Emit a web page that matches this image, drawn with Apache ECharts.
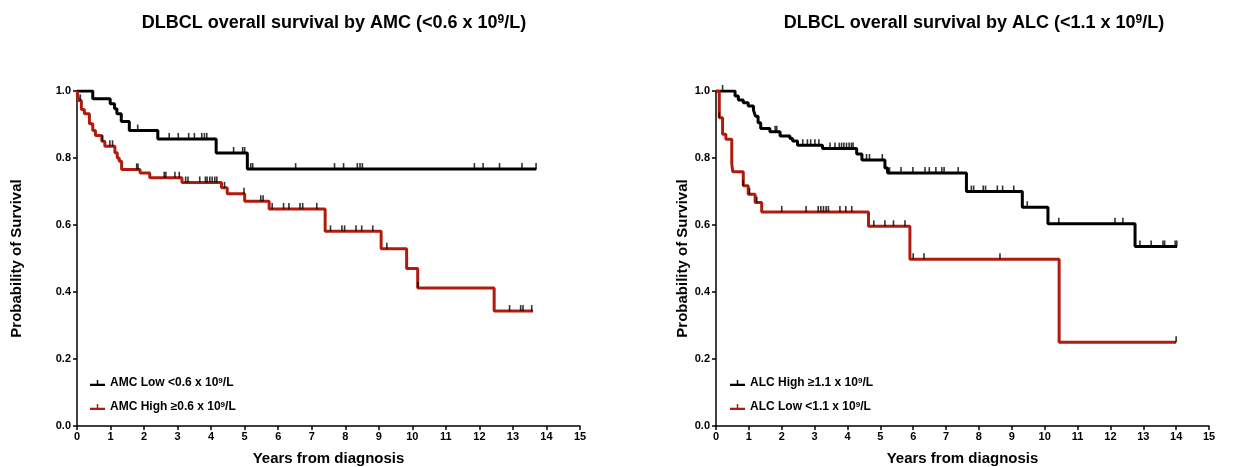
<!DOCTYPE html>
<html>
<head>
<meta charset="utf-8">
<title>DLBCL overall survival</title>
<script src="https://cdn.jsdelivr.net/npm/echarts@6/dist/echarts.min.js"></script>
<style>
  html, body { margin: 0; padding: 0; background: #fff; }
  #chart { width: 1236px; height: 467px; }
</style>
</head>
<body>
<div id="chart"></div>
<script>
// ---- AMC plot (left) ----
const amcLowTimes = [0, 0.47, 0.99, 1.12, 1.19, 1.32, 1.56, 2.41, 4.15, 5.08]
const amcLowSurv  = [1.0, 0.977, 0.962, 0.947, 0.932, 0.909, 0.882, 0.857, 0.815, 0.767]
const amcLowEnd = 13.7
const amcLowCensor = [1.81, 2.75, 3.02, 3.33, 3.5, 3.72, 3.8, 3.87, 4.67, 4.94, 5.0, 5.18, 5.24, 6.52,
  7.68, 7.95, 8.36, 8.44, 8.51, 11.85, 12.11, 12.6, 13.27, 13.69]

const amcHighTimes = [0, 0.05, 0.13, 0.22, 0.37, 0.47, 0.55, 0.74, 0.83, 1.13, 1.2, 1.26, 1.33, 1.88, 2.17,
  3.13, 4.31, 4.48, 5.0, 5.73, 7.4, 9.07, 9.83, 10.16, 12.44]
const amcHighSurv  = [1.0, 0.972, 0.945, 0.932, 0.902, 0.882, 0.867, 0.85, 0.835, 0.816, 0.8, 0.79, 0.766, 0.755, 0.741,
  0.727, 0.711, 0.693, 0.671, 0.648, 0.581, 0.529, 0.47, 0.412, 0.343]
const amcHighEnd = 13.6
const amcHighCensor = [0.1, 0.76, 0.98, 1.06, 1.78, 1.82, 2.6, 2.65, 2.92, 3.05, 3.24, 3.31, 3.66, 3.83, 3.88, 3.96,
  4.03, 4.11, 4.17, 4.4, 4.98, 5.48, 5.55, 5.82, 6.16, 6.32, 6.65, 6.73, 7.15, 7.56, 7.9, 7.98, 8.32, 8.49,
  8.82, 9.24, 10.17, 12.9, 13.23, 13.3, 13.56]

// ---- ALC plot (right) ----
const alcHighTimes = [0, 0.58, 0.68, 0.83, 0.98, 1.14, 1.2, 1.28, 1.36, 1.64, 1.95, 2.25, 2.33, 2.48, 3.24,
  4.28, 4.44, 5.14, 5.22, 7.62, 9.32, 10.1, 12.75]
const alcHighSurv  = [1.0, 0.985, 0.973, 0.965, 0.955, 0.943, 0.925, 0.905, 0.888, 0.878, 0.866, 0.858, 0.851, 0.838, 0.828,
  0.812, 0.794, 0.77, 0.755, 0.70, 0.653, 0.604, 0.536]
const alcHighEnd = 14.03
const alcHighCensor = [0.2, 1.8, 1.85, 2.64, 2.78, 2.88, 3.01, 3.13, 3.47, 3.62, 3.75, 3.82, 3.89, 3.97, 4.05, 4.12,
  4.17, 4.58, 4.67, 5.06, 5.28, 5.63, 5.99, 6.36, 6.49, 6.69, 6.87, 6.94, 7.37, 7.77, 7.84, 8.13, 8.2, 8.56,
  8.72, 9.06, 9.47, 10.43, 12.14, 12.38, 12.9, 13.24, 13.6, 13.65, 13.97, 14.02]

const alcLowTimes = [0, 0.1, 0.2, 0.3, 0.48, 0.51, 0.83, 0.98, 1.19, 1.39, 4.64, 5.9, 10.44]
const alcLowSurv  = [1.0, 0.92, 0.871, 0.856, 0.782, 0.759, 0.717, 0.692, 0.667, 0.639, 0.596, 0.498, 0.25]
const alcLowEnd = 14.0
const alcLowCensor = [0.1, 0.83, 1.02, 1.24, 2.0, 2.74, 3.11, 3.19, 3.27, 3.35, 3.42, 3.77, 3.95, 4.13,
  4.8, 5.14, 5.4, 5.75, 6.0, 6.33, 8.64, 14.0]

const xTicks = [0, 15, 1]   // min, max, step
const yTicks = [0, 1, 0.2]

const BLACK = '#000000'
const RED = '#b01b0e'
const FONT = '"Liberation Sans", Arial, Helvetica, sans-serif'

// 阶梯数据
function stepData(times, surv, end) {
  const d = times.map((t, i) => [t, surv[i]])
  d.push([end, surv[surv.length - 1]])
  return d
}
// 删失点取当时的生存率
function censorData(times, surv, cens) {
  return cens.map(t => {
    let s = surv[0]
    for (let i = 0; i < times.length; i++) {
      if (times[i] <= t) s = surv[i]
    }
    return [t, s]
  })
}

const grids = [
  { left: 77, top: 91, width: 503, height: 335, outerBoundsMode: 'none', containLabel: false },
  { left: 716, top: 91, width: 493, height: 335, outerBoundsMode: 'none', containLabel: false }
]

function xAxisFor(idx) {
  return {
    gridIndex: idx, type: 'value', min: xTicks[0], max: xTicks[1], interval: xTicks[2],
    name: 'Years from diagnosis', nameLocation: 'middle', nameGap: 25,
    nameTextStyle: { fontFamily: FONT, fontWeight: 'bold', fontSize: 15, color: '#000' },
    axisLine: { show: true, onZero: false, lineStyle: { color: '#000', width: 1.5 } },
    axisTick: { show: true, length: 4, lineStyle: { color: '#000', width: 1.5 } },
    axisLabel: { fontFamily: FONT, fontWeight: 'bold', fontSize: 11, color: '#000', margin: 5 },
    splitLine: { show: false }
  }
}
function yAxisFor(idx, gap) {
  return {
    gridIndex: idx, type: 'value', min: yTicks[0], max: yTicks[1], interval: yTicks[2],
    name: 'Probability of Survival', nameLocation: 'middle', nameGap: gap,
    nameTextStyle: { fontFamily: FONT, fontWeight: 'bold', fontSize: 15, color: '#000' },
    axisLine: { show: true, onZero: false, lineStyle: { color: '#000', width: 1.5 } },
    axisTick: { show: true, length: 4, lineStyle: { color: '#000', width: 1.5 } },
    axisLabel: { fontFamily: FONT, fontWeight: 'bold', fontSize: 11, color: '#000', margin: 6,
      formatter: v => v.toFixed(1) },
    splitLine: { show: false }
  }
}

function kmLine(name, idx, color, times, surv, end) {
  return {
    name: name, type: 'line', xAxisIndex: idx, yAxisIndex: idx, step: 'end',
    data: stepData(times, surv, end), showSymbol: false, symbol: 'none',
    lineStyle: { color: color, width: 3 }, itemStyle: { color: color },
    animation: false, z: 2
  }
}
function censorMarks(idx, times, surv, cens) {
  return {
    type: 'scatter', xAxisIndex: idx, yAxisIndex: idx,
    data: censorData(times, surv, cens),
    symbol: 'rect', symbolSize: [1.6, 6], symbolOffset: [0, -3],
    itemStyle: { color: '#000' }, animation: false, silent: true, z: 3
  }
}

const supRich = {
  sup: { fontFamily: FONT, fontWeight: 'bold', fontSize: 12, verticalAlign: 'top', lineHeight: 12 }
}
const legendRich = {
  sup: { fontFamily: FONT, fontWeight: 'bold', fontSize: 8, verticalAlign: 'top', lineHeight: 8 }
}
const legendLabels = {
  'AMC Low': 'AMC Low <0.6 x 10{sup|9}/L',
  'AMC High': 'AMC High \u22650.6 x 10{sup|9}/L',
  'ALC High': 'ALC High \u22651.1 x 10{sup|9}/L',
  'ALC Low': 'ALC Low <1.1 x 10{sup|9}/L'
}
const legendIcon = 'path://M0,5h20v3h-20z M9,0h2v5h-2z'

function legendFor(left, names) {
  return {
    left: left, top: 377, orient: 'vertical', itemGap: 12, padding: 0,
    itemWidth: 15, itemHeight: 7, icon: legendIcon,
    data: names, selectedMode: false,
    formatter: n => legendLabels[n],
    textStyle: { fontFamily: FONT, fontWeight: 'bold', fontSize: 12, color: '#000', rich: legendRich }
  }
}

const chart = echarts.init(document.getElementById('chart'), null, { renderer: 'canvas' })
chart.setOption({
  backgroundColor: '#fff',
  animation: false,
  title: [
    {
      text: 'DLBCL overall survival by AMC (<0.6 x 10{sup|9}/L)',
      left: 329, top: 9, textAlign: 'center',
      textStyle: { fontFamily: FONT, fontWeight: 'bold', fontSize: 18, color: '#000', rich: supRich }
    },
    {
      text: 'DLBCL overall survival by ALC (<1.1 x 10{sup|9}/L)',
      left: 969, top: 9, textAlign: 'center',
      textStyle: { fontFamily: FONT, fontWeight: 'bold', fontSize: 18, color: '#000', rich: supRich }
    }
  ],
  legend: [
    legendFor(90, ['AMC Low', 'AMC High']),
    legendFor(730, ['ALC High', 'ALC Low'])
  ],
  grid: grids,
  xAxis: [xAxisFor(0), xAxisFor(1)],
  yAxis: [yAxisFor(0, 53), yAxisFor(1, 23)],
  series: [
    kmLine('AMC Low', 0, BLACK, amcLowTimes, amcLowSurv, amcLowEnd),
    kmLine('AMC High', 0, RED, amcHighTimes, amcHighSurv, amcHighEnd),
    censorMarks(0, amcLowTimes, amcLowSurv, amcLowCensor),
    censorMarks(0, amcHighTimes, amcHighSurv, amcHighCensor),
    kmLine('ALC High', 1, BLACK, alcHighTimes, alcHighSurv, alcHighEnd),
    kmLine('ALC Low', 1, RED, alcLowTimes, alcLowSurv, alcLowEnd),
    censorMarks(1, alcHighTimes, alcHighSurv, alcHighCensor),
    censorMarks(1, alcLowTimes, alcLowSurv, alcLowCensor)
  ]
})
</script>
</body>
</html>
